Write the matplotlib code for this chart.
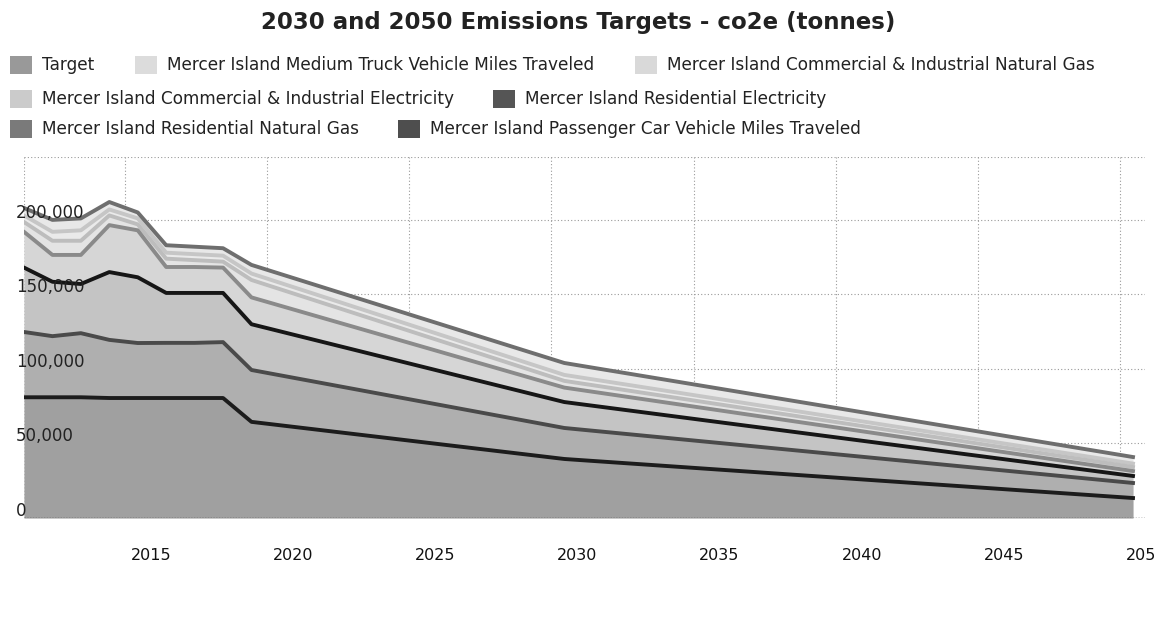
import matplotlib
matplotlib.use("Agg")
import matplotlib.pyplot as plt
from matplotlib.patches import Rectangle
import numpy as np

W, H = 1156, 623

years = [2011, 2012, 2013, 2014, 2015, 2016, 2017, 2018, 2019, 2030, 2050]

# stacked series, bottom -> top (tonnes co2e)
passenger_car = [81000, 81000, 81000, 80500, 80500, 80500, 80500, 80500, 64500, 39600, 13400]
residential_gas = [43800, 41000, 43000, 39000, 36900, 37000, 37000, 37500, 34800, 20800, 10100]
residential_elec = [43200, 36500, 33000, 45500, 44100, 33500, 33500, 33000, 30700, 17400, 4700]
ci_elec = [24000, 18000, 19500, 31500, 31500, 17400, 17400, 17000, 18000, 9700, 3300]
ci_gas = [6600, 9500, 9500, 6500, 4000, 5600, 4600, 4000, 11700, 4500, 2700]
medium_truck = [4400, 6000, 7000, 4000, 4000, 4000, 4000, 4000, 4300, 4000, 2300]
# target (total line drawn on top)
target = [208000, 200000, 201000, 212000, 205000, 183000, 182000, 181000, 169800, 104000, 40900]

series_names = [
    "Mercer Island Passenger Car Vehicle Miles Traveled",
    "Mercer Island Residential Natural Gas",
    "Mercer Island Residential Electricity",
    "Mercer Island Commercial & Industrial Electricity",
    "Mercer Island Commercial & Industrial Natural Gas",
    "Mercer Island Medium Truck Vehicle Miles Traveled",
]
series_values = [passenger_car, residential_gas, residential_elec, ci_elec, ci_gas, medium_truck]
fill_colors = ["#a0a0a0", "#afafaf", "#c4c4c4", "#d6d6d6", "#e4e4e4", "#eaeaea"]
line_colors = ["#1c1c1c", "#4a4a4a", "#161616", "#8a8a8a", "#bdbdbd", "#c6c6c6"]
target_fill = "#e8e8e8"
target_line = "#6e6e6e"

x_ticks = [2015, 2020, 2025, 2030, 2035, 2040, 2045, 2050]
y_ticks = [0, 50000, 100000, 150000, 200000]
y_labels = ["0", "50,000", "100,000", "150,000", "200,000"]

fig = plt.figure(figsize=(W / 100, H / 100), dpi=100)
fig.patch.set_facecolor("white")

def px(x0, y0, x1, y1):
    return [x0 / W, 1 - y1 / H, (x1 - x0) / W, (y1 - y0) / H]

ax = fig.add_axes(px(24, 157, 1145, 518))
x_right = 2050 + 12 / 28.44
ax.set_xlim(2011, x_right)
ax.set_ylim(0, 242200)
for s in ax.spines.values():
    s.set_visible(False)
ax.set_xticks([])
ax.set_yticks([])

# grid (dotted, behind)
for yv in y_ticks[1:] + [242000]:
    ax.axhline(yv, color="#9a9a9a", lw=0.8, ls=(0, (1, 2)), zorder=0)
for xv in x_ticks:
    ax.axvline(xv - 0.45, color="#9a9a9a", lw=0.8, ls=(0, (1, 2)), zorder=0)
ax.axvline(2011, color="#9a9a9a", lw=0.8, ls=(0, (1, 2)), zorder=0)

yrs = np.array(years, dtype=float)
# target area behind the stack
ax.fill_between(yrs, 0, target, color=target_fill, lw=0, zorder=1)
base = np.zeros(len(years))
tops = []
for vals, fc in zip(series_values, fill_colors):
    top = base + np.array(vals, dtype=float)
    ax.fill_between(yrs, base, top, color=fc, lw=0, zorder=2)
    tops.append(top)
    base = top
for top, lc in zip(reversed(tops), reversed(line_colors)):
    ax.plot(yrs, top, color=lc, lw=2.8, zorder=3, solid_joinstyle="round")
ax.plot(yrs, target, color=target_line, lw=2.8, zorder=3, solid_joinstyle="round")
ax.axhline(0, color="#333333", lw=1.0, ls=(0, (1, 1)), zorder=4)

# y labels inside the plot
for yv, lab in zip(y_ticks, y_labels):
    ax.annotate(lab, xy=(2011, yv), xycoords="data", xytext=(-8, 2), textcoords="offset pixels",
                ha="left", va="baseline", fontsize=12, color="#222222", zorder=6,
                family="DejaVu Sans")
# x labels (slightly offset to the right like in the reference)
for xv in x_ticks:
    ax.annotate(str(xv), xy=(xv, 0), xycoords="data", xytext=(13, -37), textcoords="offset pixels",
                ha="center", va="center", fontsize=11.5, color="#111111",
                family="DejaVu Sans", annotation_clip=False)

# title
fig.text(578 / W, 1 - 23 / H, "2030 and 2050 Emissions Targets - co2e (tonnes)",
         ha="center", va="center", fontsize=16.5, fontweight="bold", color="#222222",
         family="DejaVu Sans")

# legend (manual flow layout)
legend_items = [
    ("Target", "#999999", 10, 65),
    ("Mercer Island Medium Truck Vehicle Miles Traveled", "#dcdcdc", 135, 65),
    ("Mercer Island Commercial & Industrial Natural Gas", "#d9d9d9", 635, 65),
    ("Mercer Island Commercial & Industrial Electricity", "#cbcbcb", 10, 99),
    ("Mercer Island Residential Electricity", "#555555", 493, 99),
    ("Mercer Island Residential Natural Gas", "#7a7a7a", 10, 129),
    ("Mercer Island Passenger Car Vehicle Miles Traveled", "#4e4e4e", 398, 129),
]
for lab, col, x0, yc in legend_items:
    fig.patches.append(Rectangle((x0 / W, 1 - (yc + 9) / H), 22 / W, 18 / H,
                                 transform=fig.transFigure, facecolor=col, edgecolor="none"))
    fig.text((x0 + 32) / W, 1 - yc / H, lab, ha="left", va="center", fontsize=12.2,
             color="#222222", family="DejaVu Sans")

fig.savefig("out.png", dpi=100, facecolor="white")
